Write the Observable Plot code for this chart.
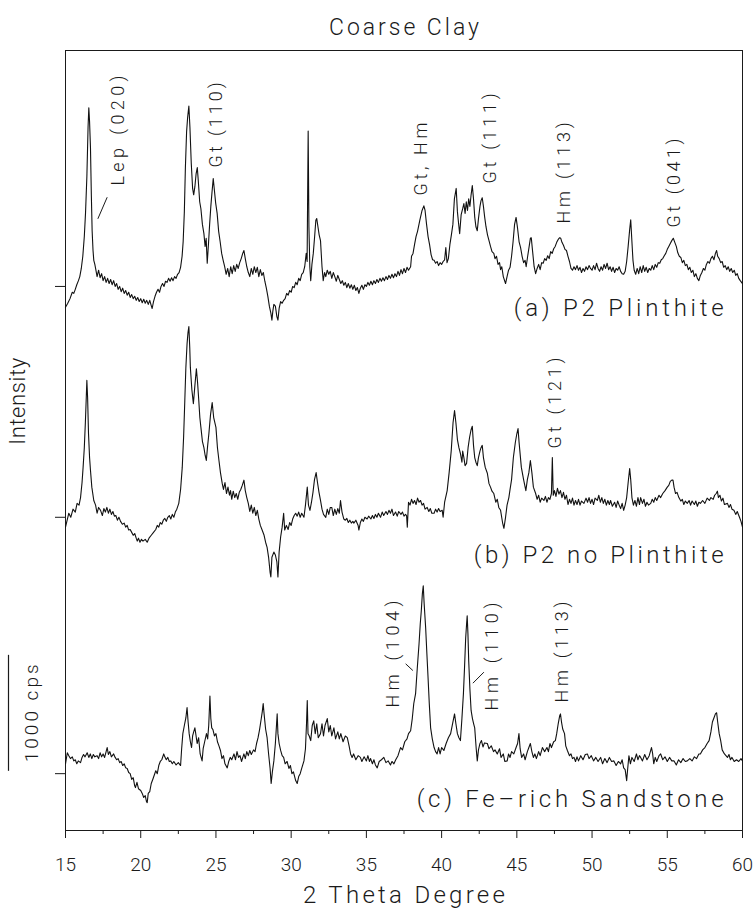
<!DOCTYPE html>
<html><head><meta charset="utf-8">
<script src="https://cdn.jsdelivr.net/npm/d3@7"></script>
<script src="https://cdn.jsdelivr.net/npm/@observablehq/plot@0.6"></script>
<style>
body{margin:0;background:#fff;}
#chart svg{display:block;font-family:Roboto,"Liberation Sans",sans-serif;font-weight:300;}
</style></head><body><div id="chart"></div>
<script>
// ---- data: XRD patterns, intensity relative to each pattern's baseline (cps) ----
const patternA = [[15.00,-180],[15.15,-145],[15.30,-105],[15.45,-50],[15.55,-60],[15.65,-25],[15.75,15],[15.86,50],[15.95,85],[16.05,155],[16.15,260],[16.25,430],[16.33,630],[16.42,945],[16.50,1375],[16.55,1540],[16.60,1420],[16.66,1195],[16.72,775],[16.77,480],[16.83,310],[16.88,225],[16.95,190],[17.00,155],[17.10,85],[17.20,140],[17.30,75],[17.40,110],[17.50,50],[17.60,85],[17.70,35],[17.80,70],[17.90,25],[18.00,60],[18.10,15],[18.20,50],[18.30,0],[18.40,25],[18.50,-25],[18.60,0],[18.70,-45],[18.80,-15],[18.90,-60],[19.00,-35],[19.10,-75],[19.20,-50],[19.30,-95],[19.40,-70],[19.50,-105],[19.60,-85],[19.70,-120],[19.80,-95],[19.90,-130],[20.00,-105],[20.10,-140],[20.20,-110],[20.30,-145],[20.40,-120],[20.50,-155],[20.60,-120],[20.70,-165],[20.76,-190],[20.85,-130],[20.95,-85],[21.05,-50],[21.15,-25],[21.25,-50],[21.35,0],[21.45,25],[21.55,0],[21.65,45],[21.75,35],[21.85,70],[21.95,45],[22.05,75],[22.15,50],[22.25,85],[22.35,70],[22.45,105],[22.55,120],[22.65,165],[22.75,260],[22.82,385],[22.90,645],[22.97,1030],[23.05,1335],[23.12,1460],[23.20,1555],[23.27,1375],[23.36,1060],[23.45,845],[23.52,790],[23.60,860],[23.68,970],[23.76,1025],[23.83,905],[23.92,730],[24.00,670],[24.10,535],[24.20,455],[24.28,345],[24.35,415],[24.42,200],[24.50,360],[24.58,535],[24.66,690],[24.74,815],[24.82,930],[24.90,825],[24.98,720],[25.08,630],[25.18,475],[25.28,385],[25.38,285],[25.48,225],[25.58,170],[25.68,105],[25.78,155],[25.88,85],[25.98,170],[26.08,110],[26.18,180],[26.28,130],[26.38,190],[26.48,155],[26.58,205],[26.68,240],[26.78,285],[26.86,310],[26.95,240],[27.05,170],[27.15,120],[27.25,85],[27.35,155],[27.45,105],[27.55,170],[27.65,120],[27.75,165],[27.85,85],[27.95,145],[28.05,95],[28.15,120],[28.25,45],[28.35,-15],[28.45,-85],[28.55,-170],[28.65,-230],[28.72,-290],[28.78,-215],[28.85,-155],[28.95,-170],[29.05,-260],[29.12,-290],[29.20,-190],[29.30,-130],[29.40,-145],[29.50,-120],[29.60,-105],[29.70,-60],[29.80,-75],[29.90,-35],[30.00,-50],[30.10,0],[30.20,-10],[30.30,35],[30.40,15],[30.50,70],[30.60,50],[30.70,105],[30.80,120],[30.90,170],[31.00,285],[31.06,215],[31.13,1340],[31.18,515],[31.24,170],[31.30,50],[31.38,190],[31.47,285],[31.56,430],[31.64,570],[31.70,585],[31.78,515],[31.86,445],[31.95,395],[32.05,170],[32.13,50],[32.22,120],[32.30,85],[32.40,140],[32.50,105],[32.60,130],[32.70,70],[32.80,120],[32.90,85],[33.00,45],[33.10,95],[33.20,60],[33.30,25],[33.40,50],[33.50,10],[33.60,35],[33.70,-10],[33.80,25],[33.90,-15],[34.00,15],[34.10,-25],[34.20,10],[34.30,-35],[34.40,-10],[34.50,-60],[34.60,-15],[34.70,10],[34.80,-25],[34.90,15],[35.00,0],[35.10,35],[35.20,10],[35.30,45],[35.40,15],[35.50,50],[35.60,25],[35.70,60],[35.80,35],[35.90,70],[36.00,45],[36.10,75],[36.20,50],[36.30,85],[36.40,60],[36.50,95],[36.60,70],[36.70,105],[36.80,75],[36.90,110],[37.00,85],[37.10,130],[37.20,95],[37.30,145],[37.40,110],[37.50,155],[37.60,120],[37.70,165],[37.80,140],[37.94,170],[38.00,260],[38.10,285],[38.20,360],[38.30,430],[38.40,475],[38.55,570],[38.70,655],[38.82,695],[38.90,655],[39.00,535],[39.10,430],[39.20,360],[39.30,275],[39.40,230],[39.50,225],[39.60,200],[39.70,215],[39.80,180],[39.90,205],[40.00,190],[40.10,215],[40.20,230],[40.28,335],[40.36,205],[40.45,240],[40.55,360],[40.65,445],[40.75,535],[40.85,755],[40.97,845],[41.05,645],[41.15,515],[41.20,455],[41.30,620],[41.40,670],[41.48,715],[41.56,630],[41.64,730],[41.72,655],[41.80,755],[41.88,690],[41.96,790],[42.04,870],[42.12,755],[42.20,600],[42.28,515],[42.37,480],[42.45,585],[42.55,690],[42.62,740],[42.70,765],[42.78,690],[42.86,600],[42.95,515],[43.05,445],[43.15,395],[43.25,345],[43.35,300],[43.47,285],[43.55,240],[43.65,260],[43.75,190],[43.85,205],[43.92,145],[44.00,170],[44.10,85],[44.20,45],[44.25,25],[44.35,85],[44.45,140],[44.55,165],[44.65,260],[44.75,385],[44.85,535],[44.95,595],[45.05,500],[45.15,385],[45.25,335],[45.35,260],[45.45,205],[45.55,225],[45.62,170],[45.72,260],[45.82,345],[45.90,415],[45.96,420],[46.05,300],[46.15,170],[46.25,110],[46.35,155],[46.45,190],[46.55,145],[46.65,205],[46.75,200],[46.85,240],[46.95,225],[47.05,265],[47.15,240],[47.25,300],[47.35,285],[47.45,325],[47.55,345],[47.65,380],[47.75,405],[47.85,420],[47.92,415],[48.00,380],[48.10,355],[48.20,320],[48.30,310],[48.40,260],[48.50,215],[48.60,155],[48.70,140],[48.80,170],[48.90,145],[49.00,180],[49.10,140],[49.20,165],[49.30,120],[49.40,155],[49.50,130],[49.60,170],[49.70,145],[49.80,180],[49.90,155],[50.00,140],[50.10,180],[50.20,145],[50.30,200],[50.40,155],[50.50,130],[50.60,170],[50.70,140],[50.80,190],[50.90,155],[51.00,200],[51.10,145],[51.20,170],[51.30,130],[51.40,165],[51.50,120],[51.60,155],[51.70,140],[51.80,170],[51.90,130],[52.00,110],[52.10,105],[52.20,130],[52.30,215],[52.40,345],[52.50,490],[52.57,575],[52.65,385],[52.72,225],[52.80,140],[52.90,105],[53.00,155],[53.10,110],[53.20,170],[53.30,120],[53.40,180],[53.50,130],[53.60,165],[53.70,120],[53.80,155],[53.90,140],[54.00,180],[54.10,145],[54.20,190],[54.30,165],[54.40,205],[54.50,200],[54.60,230],[54.70,240],[54.80,265],[54.90,285],[55.00,320],[55.10,345],[55.20,370],[55.30,395],[55.40,415],[55.50,380],[55.60,345],[55.70,290],[55.80,260],[55.90,250],[56.00,205],[56.10,225],[56.20,180],[56.30,190],[56.40,145],[56.50,165],[56.60,120],[56.70,140],[56.80,85],[56.90,110],[57.00,70],[57.10,50],[57.20,95],[57.30,120],[57.40,155],[57.50,140],[57.60,190],[57.70,215],[57.80,200],[57.90,240],[58.00,260],[58.10,230],[58.20,285],[58.28,310],[58.35,260],[58.45,240],[58.55,205],[58.65,215],[58.75,165],[58.85,180],[58.95,145],[59.05,170],[59.15,130],[59.25,155],[59.35,120],[59.45,140],[59.55,95],[59.65,110],[59.75,70],[59.85,50],[60.00,25]];

const patternB = [[15.00,-85],[15.22,35],[15.35,0],[15.50,70],[15.65,45],[15.77,120],[15.90,105],[16.00,170],[16.10,300],[16.17,430],[16.25,600],[16.32,815],[16.38,1030],[16.42,1180],[16.47,1030],[16.53,720],[16.60,515],[16.66,405],[16.75,260],[16.88,145],[17.00,105],[17.10,35],[17.20,85],[17.33,60],[17.45,15],[17.55,75],[17.65,45],[17.75,85],[17.85,35],[17.95,70],[18.05,25],[18.15,50],[18.25,10],[18.35,15],[18.45,-25],[18.55,0],[18.66,-35],[18.78,-60],[18.90,-50],[19.00,-85],[19.10,-70],[19.20,-110],[19.30,-105],[19.40,-130],[19.50,-155],[19.60,-140],[19.70,-180],[19.77,-205],[19.85,-180],[19.95,-215],[20.05,-190],[20.15,-205],[20.30,-190],[20.43,-215],[20.55,-180],[20.70,-155],[20.85,-130],[21.00,-105],[21.10,-70],[21.20,-85],[21.30,-45],[21.40,-60],[21.50,-25],[21.60,-10],[21.70,-35],[21.80,0],[21.90,15],[22.00,-15],[22.10,25],[22.20,0],[22.30,45],[22.40,70],[22.53,120],[22.65,240],[22.76,430],[22.85,690],[22.93,1005],[23.00,1290],[23.08,1495],[23.14,1590],[23.20,1645],[23.26,1460],[23.30,1290],[23.40,1100],[23.50,980],[23.60,1135],[23.70,1280],[23.78,1160],[23.86,1005],[23.93,860],[24.00,775],[24.10,655],[24.20,600],[24.28,535],[24.36,490],[24.45,620],[24.53,720],[24.64,885],[24.75,990],[24.85,860],[25.00,775],[25.10,600],[25.20,490],[25.30,385],[25.42,290],[25.50,240],[25.60,300],[25.70,205],[25.80,260],[25.90,190],[25.97,230],[26.05,155],[26.15,225],[26.25,170],[26.35,205],[26.45,155],[26.55,215],[26.65,240],[26.75,275],[26.86,320],[26.95,230],[27.05,170],[27.15,120],[27.25,50],[27.35,105],[27.45,35],[27.55,85],[27.65,15],[27.75,60],[27.85,-15],[27.95,-70],[28.07,-110],[28.20,-155],[28.30,-215],[28.40,-260],[28.50,-345],[28.60,-475],[28.65,-515],[28.72,-345],[28.85,-300],[28.95,-325],[29.05,-385],[29.12,-515],[29.20,-300],[29.30,-170],[29.40,-85],[29.50,35],[29.57,-110],[29.68,-70],[29.80,-105],[29.90,-45],[30.00,-70],[30.10,-15],[30.20,15],[30.30,35],[30.40,10],[30.50,45],[30.60,0],[30.70,35],[30.85,0],[30.95,105],[31.07,260],[31.15,105],[31.25,60],[31.35,130],[31.45,215],[31.55,325],[31.66,385],[31.75,300],[31.85,215],[31.95,145],[32.05,70],[32.15,25],[32.30,0],[32.40,70],[32.50,25],[32.60,85],[32.70,85],[32.80,15],[32.90,70],[33.00,25],[33.10,75],[33.20,35],[33.28,145],[33.38,45],[33.50,-15],[33.60,-25],[33.70,-10],[33.80,-45],[33.90,-25],[34.00,-50],[34.10,-35],[34.17,-50],[34.30,-25],[34.45,-70],[34.50,-110],[34.60,-45],[34.70,-15],[34.80,-35],[34.90,0],[35.05,-15],[35.15,10],[35.30,-15],[35.40,15],[35.50,-10],[35.60,25],[35.70,0],[35.80,35],[35.94,0],[36.05,45],[36.15,15],[36.30,50],[36.40,25],[36.50,60],[36.60,35],[36.70,70],[36.80,15],[36.94,45],[37.05,10],[37.15,50],[37.30,25],[37.40,45],[37.50,10],[37.60,25],[37.67,15],[37.72,-85],[37.80,130],[37.90,105],[38.00,155],[38.10,120],[38.20,145],[38.30,110],[38.40,165],[38.50,130],[38.60,145],[38.70,105],[38.80,120],[38.90,70],[39.04,85],[39.15,50],[39.25,75],[39.35,35],[39.50,35],[39.60,70],[39.70,45],[39.80,75],[39.90,50],[40.04,60],[40.10,0],[40.20,130],[40.37,230],[40.50,385],[40.64,575],[40.76,815],[40.86,920],[40.95,815],[41.05,670],[41.15,600],[41.25,550],[41.35,475],[41.40,570],[41.48,515],[41.56,445],[41.66,465],[41.76,600],[41.86,690],[41.96,755],[42.04,785],[42.12,620],[42.20,515],[42.28,475],[42.37,445],[42.45,515],[42.55,570],[42.62,600],[42.70,620],[42.78,515],[42.90,430],[43.04,380],[43.15,290],[43.25,260],[43.35,225],[43.47,205],[43.60,130],[43.70,155],[43.80,85],[43.92,60],[44.05,-45],[44.14,-95],[44.25,0],[44.35,105],[44.47,170],[44.55,240],[44.65,325],[44.77,515],[44.90,645],[45.00,720],[45.08,765],[45.15,645],[45.30,430],[45.45,325],[45.60,230],[45.70,325],[45.80,385],[45.90,490],[46.00,385],[46.10,260],[46.25,205],[46.35,155],[46.45,190],[46.55,130],[46.65,165],[46.80,145],[46.90,180],[47.00,130],[47.10,170],[47.20,155],[47.30,205],[47.36,515],[47.42,190],[47.50,230],[47.60,180],[47.70,250],[47.80,200],[47.90,230],[48.00,170],[48.10,215],[48.20,155],[48.30,190],[48.40,110],[48.50,155],[48.60,120],[48.70,165],[48.80,105],[48.90,145],[49.00,110],[49.10,155],[49.20,105],[49.30,140],[49.46,120],[49.60,165],[49.70,130],[49.80,170],[49.90,120],[50.00,155],[50.10,110],[50.20,165],[50.35,145],[50.45,190],[50.55,130],[50.65,170],[50.75,120],[50.85,155],[50.95,105],[51.05,145],[51.15,110],[51.23,145],[51.35,95],[51.50,130],[51.60,85],[51.70,140],[51.80,105],[51.90,75],[52.00,120],[52.10,60],[52.20,105],[52.30,170],[52.40,300],[52.50,420],[52.57,325],[52.65,170],[52.75,105],[52.85,145],[52.95,95],[53.05,170],[53.15,110],[53.23,170],[53.35,120],[53.45,155],[53.55,95],[53.65,130],[53.75,105],[53.90,120],[54.00,155],[54.10,130],[54.20,170],[54.30,145],[54.45,190],[54.56,170],[54.70,205],[54.85,230],[55.00,260],[55.10,275],[55.20,310],[55.30,320],[55.38,320],[55.45,260],[55.55,205],[55.65,215],[55.77,170],[55.90,140],[56.00,155],[56.10,110],[56.20,140],[56.33,120],[56.45,145],[56.55,105],[56.65,140],[56.80,110],[56.90,140],[57.00,95],[57.10,130],[57.20,120],[57.35,145],[57.50,120],[57.65,165],[57.80,145],[57.90,170],[58.05,155],[58.15,190],[58.25,205],[58.33,225],[58.40,170],[58.50,190],[58.60,140],[58.70,165],[58.80,110],[59.00,120],[59.10,85],[59.20,110],[59.30,70],[59.43,60],[59.55,25],[59.65,50],[59.80,0],[59.90,-35],[60.00,-85]];

const patternC = [[15.00,85],[15.12,180],[15.22,155],[15.33,130],[15.45,145],[15.55,110],[15.65,120],[15.75,85],[15.85,110],[16.00,95],[16.10,140],[16.20,165],[16.30,145],[16.44,180],[16.55,140],[16.65,170],[16.75,130],[16.85,165],[16.95,145],[17.10,155],[17.20,130],[17.30,180],[17.40,145],[17.50,170],[17.60,140],[17.70,190],[17.77,225],[17.85,165],[17.95,190],[18.05,145],[18.20,170],[18.30,140],[18.40,120],[18.50,130],[18.60,95],[18.70,105],[18.80,70],[18.90,85],[19.00,50],[19.10,45],[19.20,10],[19.30,0],[19.40,-50],[19.50,-35],[19.60,-105],[19.65,-120],[19.75,-75],[19.85,-130],[20.00,-145],[20.10,-170],[20.20,-205],[20.30,-190],[20.38,-240],[20.43,-250],[20.50,-170],[20.60,-155],[20.70,-85],[20.80,-50],[21.00,25],[21.10,0],[21.20,70],[21.30,105],[21.40,120],[21.53,170],[21.60,145],[21.70,120],[21.80,140],[21.90,105],[22.00,110],[22.10,85],[22.20,105],[22.35,75],[22.50,95],[22.65,70],[22.72,215],[22.80,345],[22.90,415],[23.00,480],[23.08,570],[23.15,445],[23.22,345],[23.30,275],[23.38,225],[23.45,325],[23.52,360],[23.60,395],[23.68,325],[23.75,260],[23.85,310],[23.95,170],[24.08,110],[24.15,215],[24.25,275],[24.37,345],[24.45,300],[24.52,415],[24.60,670],[24.66,475],[24.72,395],[24.80,380],[24.90,325],[25.00,345],[25.10,275],[25.20,240],[25.30,200],[25.40,130],[25.50,155],[25.60,85],[25.75,50],[25.85,105],[25.95,140],[26.05,120],[26.20,170],[26.30,120],[26.40,190],[26.50,140],[26.60,155],[26.70,105],[26.86,170],[26.95,130],[27.05,190],[27.15,155],[27.25,200],[27.35,165],[27.50,205],[27.60,190],[27.70,260],[27.80,310],[27.90,380],[28.00,465],[28.08,535],[28.14,605],[28.20,515],[28.30,385],[28.40,310],[28.50,170],[28.60,45],[28.67,-85],[28.75,15],[28.85,110],[28.95,260],[29.03,430],[29.07,515],[29.12,345],[29.20,260],[29.30,200],[29.40,155],[29.50,140],[29.60,85],[29.73,105],[29.85,45],[29.95,70],[30.05,0],[30.15,15],[30.30,-60],[30.40,-85],[30.50,-25],[30.60,0],[30.70,45],[30.85,110],[30.95,215],[31.02,430],[31.07,630],[31.12,345],[31.20,325],[31.30,285],[31.40,415],[31.50,455],[31.60,345],[31.70,430],[31.80,310],[31.95,345],[32.05,430],[32.15,325],[32.25,415],[32.40,475],[32.50,360],[32.60,415],[32.70,325],[32.84,395],[32.95,300],[33.10,360],[33.20,300],[33.30,345],[33.45,275],[33.60,325],[33.73,310],[33.85,240],[33.95,170],[34.05,140],[34.15,170],[34.30,120],[34.45,155],[34.60,140],[34.70,105],[34.85,145],[35.00,110],[35.10,155],[35.20,105],[35.28,130],[35.40,85],[35.50,120],[35.60,75],[35.72,50],[35.85,105],[36.00,120],[36.16,140],[36.30,95],[36.45,110],[36.60,75],[36.70,105],[36.83,85],[36.95,120],[37.10,155],[37.27,225],[37.40,205],[37.55,275],[37.70,300],[37.80,345],[37.94,370],[38.05,475],[38.15,605],[38.27,690],[38.38,905],[38.50,1120],[38.58,1290],[38.65,1405],[38.72,1550],[38.78,1620],[38.84,1465],[38.94,1255],[39.02,1035],[39.10,825],[39.18,605],[39.27,395],[39.38,300],[39.50,225],[39.60,190],[39.70,170],[39.80,225],[39.90,170],[40.00,225],[40.15,200],[40.30,260],[40.45,310],[40.60,345],[40.75,445],[40.86,515],[40.95,430],[41.05,345],[41.15,310],[41.25,285],[41.35,475],[41.45,690],[41.52,905],[41.60,1170],[41.66,1290],[41.70,1360],[41.75,1205],[41.80,975],[41.88,730],[41.96,545],[42.05,475],[42.13,430],[42.20,395],[42.30,215],[42.37,110],[42.45,205],[42.55,260],[42.65,285],[42.75,230],[42.85,265],[43.04,260],[43.15,215],[43.30,240],[43.45,190],[43.55,205],[43.70,170],[43.85,215],[43.95,140],[44.10,170],[44.20,105],[44.36,110],[44.45,170],[44.55,140],[44.65,190],[44.80,170],[44.95,225],[45.05,260],[45.14,345],[45.22,215],[45.32,140],[45.45,170],[45.55,120],[45.70,190],[45.80,225],[45.90,260],[46.00,190],[46.10,140],[46.20,170],[46.30,130],[46.45,190],[46.55,155],[46.70,225],[46.85,190],[47.00,225],[47.10,190],[47.20,260],[47.30,225],[47.45,275],[47.56,285],[47.65,345],[47.75,430],[47.85,500],[47.90,515],[47.97,445],[48.05,385],[48.17,345],[48.25,240],[48.36,200],[48.50,155],[48.60,170],[48.70,130],[48.80,140],[48.90,105],[49.00,145],[49.10,110],[49.25,155],[49.40,120],[49.55,165],[49.69,170],[49.80,130],[49.95,155],[50.10,110],[50.25,140],[50.40,105],[50.57,140],[50.70,85],[50.85,130],[51.00,95],[51.15,140],[51.30,105],[51.45,110],[51.60,70],[51.75,105],[51.90,85],[52.00,120],[52.10,50],[52.20,35],[52.30,-60],[52.37,45],[52.45,155],[52.55,85],[52.65,140],[52.80,105],[52.95,170],[53.05,120],[53.15,155],[53.23,140],[53.35,110],[53.50,165],[53.65,120],[53.80,155],[53.95,225],[54.02,180],[54.10,85],[54.20,140],[54.30,105],[54.45,155],[54.56,170],[54.70,120],[54.85,145],[55.00,105],[55.15,140],[55.30,110],[55.45,110],[55.60,75],[55.75,120],[55.90,95],[56.05,130],[56.20,105],[56.33,110],[56.50,130],[56.65,110],[56.80,145],[56.95,130],[57.10,170],[57.20,170],[57.35,205],[57.50,225],[57.65,260],[57.78,285],[57.90,360],[58.00,445],[58.10,480],[58.20,515],[58.28,525],[58.35,445],[58.45,345],[58.55,285],[58.65,205],[58.80,170],[58.90,155],[59.00,140],[59.10,165],[59.20,120],[59.30,140],[59.45,105],[59.60,120],[59.75,105],[59.90,130],[60.00,110]];

// sample names and baseline offsets (cps)
const sampleKeys = ["a", "b", "c"];
const sampleNames = ["(a) P2 Plinthite", "(b) P2 no Plinthite", "(c) Fe\u2013rich Sandstone"];
const sampleOffsets = [4690, 2700, 490];
const sampleLabelY = [4500, 2370, 267];
const sampleLabelX = 58.75;

// peak annotations: label, 2θ, cps (bottom end of the rotated label)
const peakText  = ["Lep (020)", "Gt (110)", "Gt, Hm", "Gt (111)", "Hm (113)", "Gt (041)", "Gt (121)", "Hm (104)", "Hm (110)", "Hm (113)"];
const peakTheta = [18.52, 25.04, 38.67, 43.26, 48.18, 55.43, 47.58, 36.81, 43.39, 48.05];
const peakCps   = [5560, 5716, 5474, 5578, 5233, 5198, 3293, 1060, 1034, 1103];
const peakLen   = [110, 85, 73, 90, 101, 89, 91, 107, 108, 107];

// leader lines
const leaders = [
  {t1: 17.77, c1: 5459, t2: 17.15, c2: 5273},
  {t1: 37.61, c1: 1437, t2: 38.09, c2: 1379},
  {t1: 42.08, c1: 1270, t2: 42.81, c2: 1365}
];

const majorTicks = [15, 20, 25, 30, 35, 40, 45, 50, 55, 60];
const minorTicks = [17.5, 22.5, 27.5, 32.5, 37.5, 42.5, 47.5, 52.5, 57.5];
const scaleBar = {from: 510, to: 1510, label: "1000 cps"};
const yMax = 6724;

// ---- build ----
const patterns = [patternA, patternB, patternC];
const rows = [];
patterns.forEach((p, i) => p.forEach(([t, v]) => rows.push({sample: sampleKeys[i], theta: t, cps: v + sampleOffsets[i]})));
const peaks = peakText.map((t, i) => ({text: t, theta: peakTheta[i], cps: peakCps[i], len: peakLen[i]}));
const sampleLabels = sampleNames.map((n, i) => ({text: n, cps: sampleLabelY[i]}));

const ink = "#1a1a1a";
const chart = Plot.plot({
  width: 756, height: 919,
  marginTop: 50, marginBottom: 89, marginLeft: 65, marginRight: 14,
  x: {domain: [15, 60]},
  y: {domain: [0, yMax], axis: null},
  style: {background: "#fff", color: ink},
  marks: [
    Plot.frame({stroke: ink, strokeWidth: 1}),
    Plot.axisX({ticks: majorTicks, tickSize: 8, tickPadding: 19, fontSize: 19, label: null, tickFormat: d => String(d), stroke: ink}),
    Plot.axisX({ticks: minorTicks, tickSize: 4, tickFormat: () => "", label: null, stroke: ink}),
    Plot.axisY({ticks: sampleOffsets, tickSize: 10, tickFormat: () => "", label: null, stroke: ink}),
    Plot.line(rows, {x: "theta", y: "cps", z: "sample", stroke: "#111", strokeWidth: 1.1}),
    Plot.text(peaks, {x: "theta", y: "cps", text: "text", rotate: -90, textAnchor: "start", fontSize: 18, fill: ink}),
    Plot.link(leaders, {x1: "t1", y1: "c1", x2: "t2", y2: "c2", stroke: ink, strokeWidth: 1}),
    Plot.text(sampleLabels, {x: sampleLabelX, y: "cps", text: "text", textAnchor: "end", fontSize: 24, fill: ink}),
    Plot.ruleX([15], {y1: scaleBar.from, y2: scaleBar.to, dx: -57, stroke: ink, strokeWidth: 1.2}),
    Plot.text([scaleBar.label], {x: 15, y: (scaleBar.from + scaleBar.to) / 2, dx: -34, rotate: -90, fontSize: 19, fill: ink}),
    Plot.text(["Intensity"], {x: 15, y: 3700, dx: -48, rotate: -90, fontSize: 22, fill: ink}),
    Plot.text(["2 Theta Degree"], {frameAnchor: "bottom", dy: 72, fontSize: 24, fill: ink}),
    Plot.text(["Coarse Clay"], {frameAnchor: "top", dy: -32, fontSize: 23, fill: ink})
  ]
});
document.getElementById("chart").append(chart);

// stretch the plotter-style lettering to the widths of the original
const lengths = {"Coarse Clay": 150, "2 Theta Degree": 202, "Intensity": 87, "1000 cps": 98,
  "(a) P2 Plinthite": 210, "(b) P2 no Plinthite": 250, "(c) Fe\u2013rich Sandstone": 307};
peaks.forEach(p => { lengths[p.text] = lengths[p.text] || p.len; });
d3.select(chart).selectAll("text").each(function() {
  const t = this.textContent;
  if (lengths[t]) { this.setAttribute("textLength", lengths[t]); this.setAttribute("lengthAdjust", "spacing"); }
});
</script></body></html>
